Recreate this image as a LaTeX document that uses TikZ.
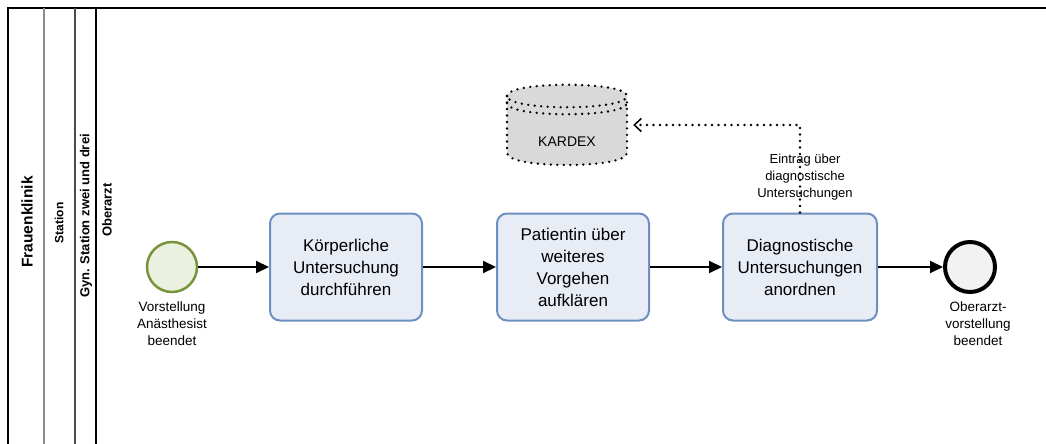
\documentclass[tikz,border=0pt]{standalone}
\usepackage{fontspec}
\setmainfont{Liberation Sans}
\usetikzlibrary{arrows.meta}
\definecolor{taskfill}{HTML}{E8EDF5}
\definecolor{taskdraw}{HTML}{6D8FC2}
\definecolor{startfill}{HTML}{EBF1DE}
\definecolor{startdraw}{HTML}{77933C}
\definecolor{endfill}{HTML}{F2F2F2}
\definecolor{dbfill}{HTML}{D9D9D9}
\begin{document}
\begin{tikzpicture}[x=1pt,y=-1pt,
  lanelabel/.style={rotate=90, inner sep=0pt, font=\bfseries\fontsize{13}{15}\selectfont},
  task/.style={draw=taskdraw, fill=taskfill, line width=2pt, rounded corners=10pt,
    minimum width=152pt, minimum height=107pt, align=center, inner sep=2pt,
    font=\fontsize{17}{22}\selectfont},
  flow/.style={line width=2pt, -{Triangle[length=13pt,width=12pt]}},
  evlabel/.style={align=center, inner sep=0pt, font=\fontsize{13.5}{17}\selectfont},
  dots/.style={line width=2.6pt, line cap=round, dash pattern=on 0pt off 6.5pt},
  assoc/.style={dots, -{Straight Barb[length=7pt,width=13pt,line width=1.5pt]}}
]
\useasboundingbox (0,0) rectangle (1046,444);

% pool and lanes
\draw[line width=2pt] (8,444) -- (8,8) -- (1046,8);
\draw[line width=1.2pt, black!45] (44,8) -- (44,444);
\draw[line width=1.4pt, black!70] (75,8) -- (75,444);
\draw[line width=1.2pt] (96,8) -- (96,444);
\node[lanelabel, font=\bfseries\fontsize{15.5}{18}\selectfont] (pool) at (27,222) {Frauenklinik};
\node[lanelabel, font=\bfseries\fontsize{12}{14}\selectfont] (lane1) at (59,223) {Station};
\node[lanelabel] (lane2) at (86,216) {Gyn. Station zwei und drei};
\node[lanelabel] (lane3) at (107,210) {Oberarzt};

% events
\node[circle, draw=startdraw, fill=startfill, line width=2.5pt, minimum size=50pt, inner sep=0pt] (start) at (172,267) {};
\node[evlabel] (startlbl) at (172,324) {Vorstellung\\Anästhesist\\beendet};
\node[circle, draw=black, fill=endfill, line width=4pt, minimum size=50pt, inner sep=0pt] (end) at (970,267) {};
\node[evlabel] (endlbl) at (978,324) {Oberarzt-\\vorstellung\\beendet};

% tasks
\node[task] (t1) at (346,267) {Körperliche\\Untersuchung\\durchführen};
\node[task] (t2) at (573,267) {Patientin über\\weiteres\\Vorgehen\\aufklären};
\node[task, minimum width=154pt] (t3) at (800,267) {Diagnostische\\Untersuchungen\\anordnen};

% sequence flows
\draw[flow] (start) -- (t1);
\draw[flow] (t1) -- (t2);
\draw[flow] (t2) -- (t3);
\draw[flow] (t3) -- (end);

% data store
\node[minimum width=120pt, minimum height=80pt, inner sep=0pt] (db) at (567,125) {};
\fill[dbfill] (507,96) .. controls (507,81) and (627,81) .. (627,96) -- (627,153)
  .. controls (627,169) and (507,169) .. (507,153) -- cycle;
\draw[dots] (507,96) .. controls (507,81) and (627,81) .. (627,96)
  .. controls (627,111) and (507,111) .. (507,96);
\draw[dots] (507,103) .. controls (507,118) and (627,118) .. (627,103);
\draw[dots] (507,96) -- (507,153) .. controls (507,169) and (627,169) .. (627,153) -- (627,96);
\node[font=\fontsize{14}{16}\selectfont] (dblbl) at (567,142) {KARDEX};

% data association
\draw[assoc, shorten >=6pt] (t3.north) |- (db.east);
\node[evlabel, font=\fontsize{13}{17}\selectfont] (assoclbl) at (805,177) {Eintrag über\\diagnostische\\Untersuchungen};
\end{tikzpicture}
\end{document}
